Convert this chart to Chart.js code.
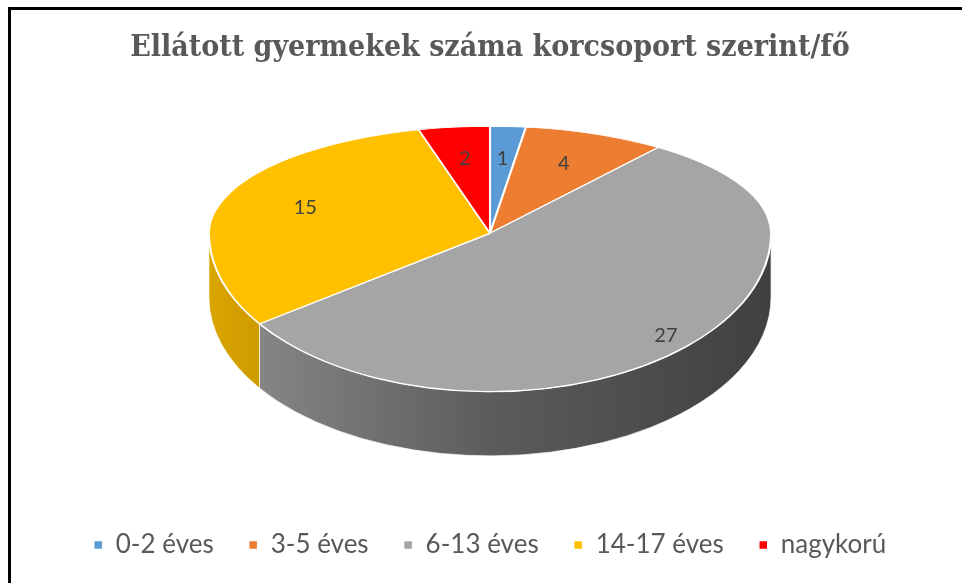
<!DOCTYPE html>
<html><head><meta charset="utf-8">
<script src="https://cdn.jsdelivr.net/npm/chart.js@4.4.1/dist/chart.umd.min.js"></script>
<style>html,body{margin:0;padding:0;background:#fff;overflow:hidden}#wrap{position:relative;width:962px;height:583px}</style>
</head><body><div id="wrap"><canvas id="c" width="962" height="583"></canvas></div>
<script>
const titleText = 'Ellátott gyermekek száma korcsoport szerint/fő';
const categories = ['0-2 éves', '3-5 éves', '6-13 éves', '14-17 éves', 'nagykorú'];
const values = [1, 4, 27, 15, 2];
const sliceColors = ['#5B9BD5', '#ED7D31', '#A5A5A5', '#FFC000', '#FF0000'];

// 3D view parameters, relative to the pie radius computed by Chart.js
const VIEW = {widen: 1.40, tiltFar: 0.533, tiltNear: 0.789, lift: 0.31, depth: 0.32};

function shade(hex, k) {
  const n = parseInt(hex.slice(1), 16);
  const r = Math.round(((n >> 16) & 255) * k), g = Math.round(((n >> 8) & 255) * k), b = Math.round((n & 255) * k);
  return `rgb(${r},${g},${b})`;
}

function geometry(chart) {
  const meta = chart.getDatasetMeta(0);
  const a = meta.data[0];
  const R = a.outerRadius;
  return {
    meta, R, ox: a.x, oy: a.y,
    X: a.x, apexY: a.y - VIEW.lift * R,
    rx: VIEW.widen * R, ryFar: VIEW.tiltFar * R, ryNear: VIEW.tiltNear * R,
    depth: VIEW.depth * R
  };
}

const framePlugin = {
  id: 'frame',
  beforeDraw(chart) {
    const ctx = chart.ctx;
    ctx.save();
    ctx.fillStyle = '#000';
    ctx.fillRect(8, 7, chart.width - 8, 3);
    ctx.fillRect(8, 7, 3, chart.height - 7);
    ctx.restore();
  }
};

const pie3dPlugin = {
  id: 'pie3d',
  beforeDatasetsDraw(chart) {
    const ctx = chart.ctx;
    const g = geometry(chart);
    const arcs = g.meta.data;
    // side walls (front half only)
    arcs.forEach((arc, i) => {
      const a0 = Math.max(arc.startAngle, 0), a1 = Math.min(arc.endAngle, Math.PI);
      if (a1 <= a0) return;
      const col = sliceColors[i];
      const grad = ctx.createLinearGradient(g.X - g.rx, 0, g.X + g.rx, 0);
      grad.addColorStop(0, shade(col, 0.86));
      grad.addColorStop(0.5, shade(col, 0.56));
      grad.addColorStop(1, shade(col, 0.39));
      ctx.save();
      ctx.beginPath();
      ctx.ellipse(g.X, g.apexY, g.rx, g.ryNear, 0, a0, a1, false);
      ctx.ellipse(g.X, g.apexY + g.depth, g.rx, g.ryNear, 0, a1, a0, true);
      ctx.closePath();
      ctx.fillStyle = grad;
      ctx.fill();
      ctx.strokeStyle = 'rgba(255,255,255,0.7)';
      ctx.lineWidth = 1;
      ctx.stroke();
      ctx.restore();
    });
    // top face: far half and near half with different tilt
    const halves = [
      {y0: 0, y1: g.apexY + 0.5, sy: g.ryFar / g.R},
      {y0: g.apexY - 0.5, y1: chart.height, sy: g.ryNear / g.R}
    ];
    halves.forEach(h => {
      ctx.save();
      ctx.beginPath();
      ctx.rect(0, h.y0, chart.width, h.y1 - h.y0);
      ctx.clip();
      ctx.translate(g.X, g.apexY);
      ctx.scale(g.rx / g.R, h.sy);
      ctx.translate(-g.ox, -g.oy);
      arcs.forEach(arc => arc.draw(ctx));
      ctx.restore();
    });
    // value labels
    ctx.save();
    ctx.font = '20px Lato, "Open Sans", sans-serif';
    ctx.fillStyle = '#404040';
    ctx.textAlign = 'center';
    ctx.textBaseline = 'middle';
    arcs.forEach((arc, i) => {
      const m = (arc.startAngle + arc.endAngle) / 2;
      const near = Math.sin(m) > 0;
      const f = near ? 0.9 : 0.7;
      const ry = near ? g.ryNear : g.ryFar;
      const x = g.X + g.rx * f * Math.cos(m);
      const y = g.apexY + ry * f * Math.sin(m);
      ctx.fillText(String(chart.data.datasets[0].data[i]), x, y);
    });
    ctx.restore();
    return false;
  }
};

new Chart(document.getElementById('c'), {
  type: 'pie',
  data: {
    labels: categories,
    datasets: [{
      data: values,
      backgroundColor: sliceColors,
      borderColor: '#ffffff',
      borderWidth: 1.5
    }]
  },
  options: {
    responsive: false,
    animation: false,
    events: [],
    layout: {padding: {left: 18, right: 0, top: 0, bottom: 15}},
    plugins: {
      title: {
        display: true,
        text: titleText,
        color: '#595959',
        font: {family: '"DejaVu Serif Condensed", "Liberation Serif", serif', size: 30, weight: 'bold'},
        padding: {top: 30, bottom: 28}
      },
      legend: {
        position: 'bottom',
        labels: {
          boxWidth: 9, boxHeight: 9, padding: 35,
          color: '#595959',
          font: {family: 'Lato, "Open Sans", sans-serif', size: 26}
        }
      },
      tooltip: {enabled: false}
    }
  },
  plugins: [framePlugin, pie3dPlugin]
});
</script>
</body></html>
